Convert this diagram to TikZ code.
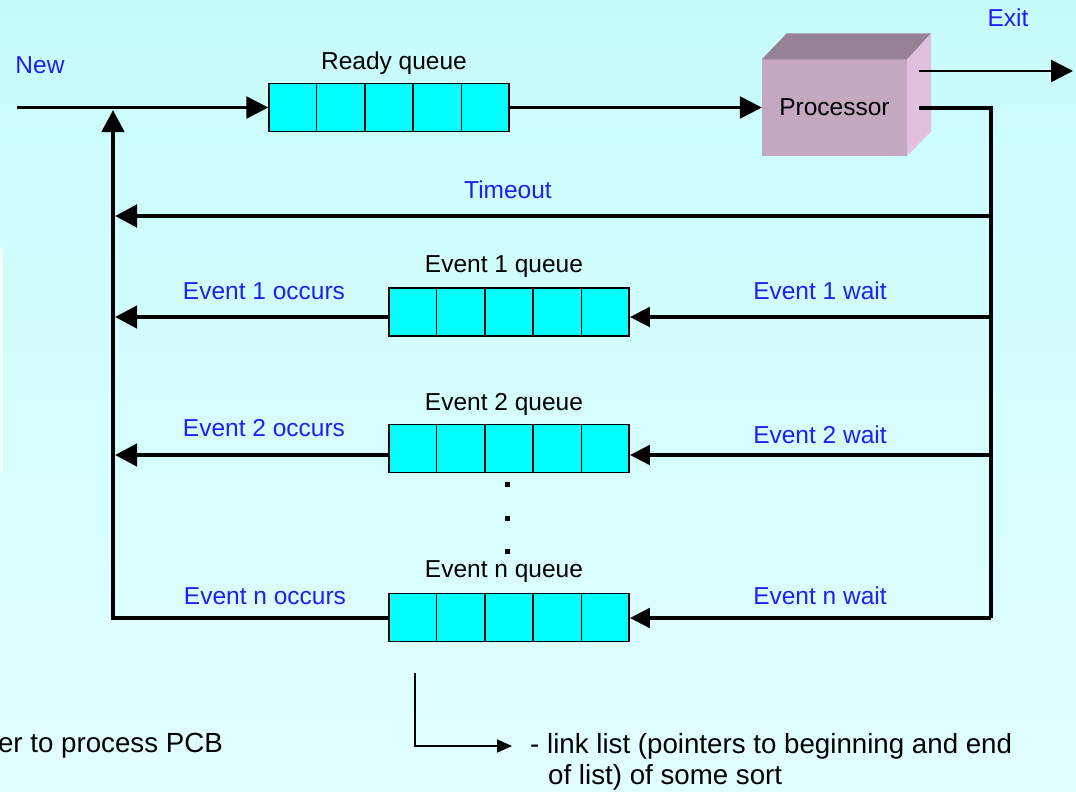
\documentclass[tikz,border=0pt]{standalone}
\usepackage{fontspec}
\setmainfont{Liberation Sans}
\usetikzlibrary{arrows.meta,calc}
\definecolor{bgtop}{RGB}{200,252,252}
\definecolor{bgbot}{RGB}{226,255,255}
\definecolor{qfill}{RGB}{0,255,255}
\definecolor{lblue}{RGB}{30,30,255}
\definecolor{pfront}{RGB}{196,168,192}
\definecolor{ptop}{RGB}{150,130,148}
\definecolor{pside}{RGB}{224,192,220}
\begin{document}
\begin{tikzpicture}[x=1pt,y=-1pt,
  lbl/.style={font=\fontsize{24.5}{28}\selectfont, inner sep=0pt},
  evlbl/.style={lbl, text=lblue},
  note/.style={font=\fontsize{27.7}{32}\selectfont, inner sep=0pt},
  queue/.style={draw=black, line width=1.5pt, fill=qfill, minimum width=240pt,
                minimum height=48pt, inner sep=0pt},
  thinline/.style={line width=2.5pt},
  thickline/.style={line width=4.5pt},
  bigtip/.style={-{Triangle[length=22pt,width=22pt]}},
  midtip/.style={-{Triangle[length=20pt,width=19pt]}},
  dot/.style={fill=black, minimum size=5pt, inner sep=0pt},
]
% background
\shade[top color=bgtop, bottom color=bgbot] (0,0) rectangle (1076,792);
\fill[white!75!bgtop] (0,247) rectangle (2.5,472);
\useasboundingbox (0,0) rectangle (1076,792);

% queues
\node[queue] (ready) at (389,107.5) {};
\node[queue] (e1) at (509,312) {};
\node[queue] (e2) at (509,448.5) {};
\node[queue] (en) at (509,617.5) {};
\foreach \q in {ready,e1,e2,en}{
  \foreach \i in {1,...,4}{
    \draw[line width=1.5pt] ($(\q.north west)!\i/5!(\q.north east)$) --
                            ($(\q.south west)!\i/5!(\q.south east)$);
  }
}

% processor block
\node[fill=pfront, minimum width=145pt, minimum height=96pt, inner sep=0pt, lbl]
  (proc) at (834.5,107.5) {Processor};
\fill[ptop] (proc.north west) -- ++(25,-26) -- ([shift={(24,-26)}]proc.north east)
  -- (proc.north east) -- cycle;
\fill[pside] (proc.north east) -- ++(24,-26) -- ++(0,98) -- (proc.south east) -- cycle;

% connector end points
\coordinate (newstart) at (17,107.5);
\coordinate (tl) at (113,110);
\coordinate (pexit) at (919,71);
\coordinate (exitend) at (1073,71);
\coordinate (pout) at (919,108);
\coordinate (rc) at (991,108);
\coordinate (tor) at (991,216);
\coordinate (tol) at (115,216);
\coordinate (r1) at (991,317);
\coordinate (l1) at (115,317);
\coordinate (r2) at (991,455);
\coordinate (l2) at (115,455);
\coordinate (rn) at (991,618);

% main flow
\draw[thinline, bigtip] (newstart) -- (ready.west);
\draw[thinline, bigtip] (ready.east) -- (proc.west);
\draw[thinline, bigtip] (pexit) -- (exitend);

% return paths
\draw[thickline, line join=miter] (pout) -- (rc) -- (rn);
\draw[thickline, bigtip] (tor) -- (tol);
\draw[thickline, midtip] (r1) -- (e1.east |- r1);
\draw[thickline, bigtip] (e1.west |- l1) -- (l1);
\draw[thickline, midtip] (r2) -- (e2.east |- r2);
\draw[thickline, bigtip] (e2.west |- l2) -- (l2);
\draw[thickline, midtip] (rn) -- (en.east |- rn);
\draw[thickline, bigtip, line join=miter] (en.west |- rn) -- (rn -| tl) -- (tl);

% ellipsis between queues
\node[dot] (d1) at (507,484) {};
\node[dot] (d2) at (507,518) {};
\node[dot] (d3) at (507,551) {};

% labels
\node[evlbl] (newl) at (40,65) {New};
\node[evlbl] (exitl) at (1008,18) {Exit};
\node[lbl] (readyl) at (394,63) {Ready queue};
\node[evlbl] (timeoutl) at (508,190) {Timeout};
\node[lbl] (e1l) at (504,267) {Event 1 queue};
\node[lbl] (e2l) at (504,404) {Event 2 queue};
\node[lbl] (enl) at (504,572) {Event n queue};
\node[evlbl] (e1o) at (264,291) {Event 1 occurs};
\node[evlbl] (e1w) at (820,291) {Event 1 wait};
\node[evlbl] (e2o) at (264,428) {Event 2 occurs};
\node[evlbl] (e2w) at (820,435) {Event 2 wait};
\node[evlbl] (eno) at (265,596) {Event n occurs};
\node[evlbl] (enw) at (820,596) {Event n wait};

% notes at the bottom
\node[note, anchor=east] (pcb) at (223,746) {er to process PCB};
\node[note, anchor=west] (link1) at (530,746) {- link list (pointers to beginning and end};
\node[note, anchor=west] (link2) at (548,777) {of list) of some sort};
\coordinate (ls) at (415,673);
\draw[line width=1.6pt, -{Triangle[length=15pt,width=13pt]}, shorten >=18pt]
  (ls) |- (link1.west);
\end{tikzpicture}
\end{document}
